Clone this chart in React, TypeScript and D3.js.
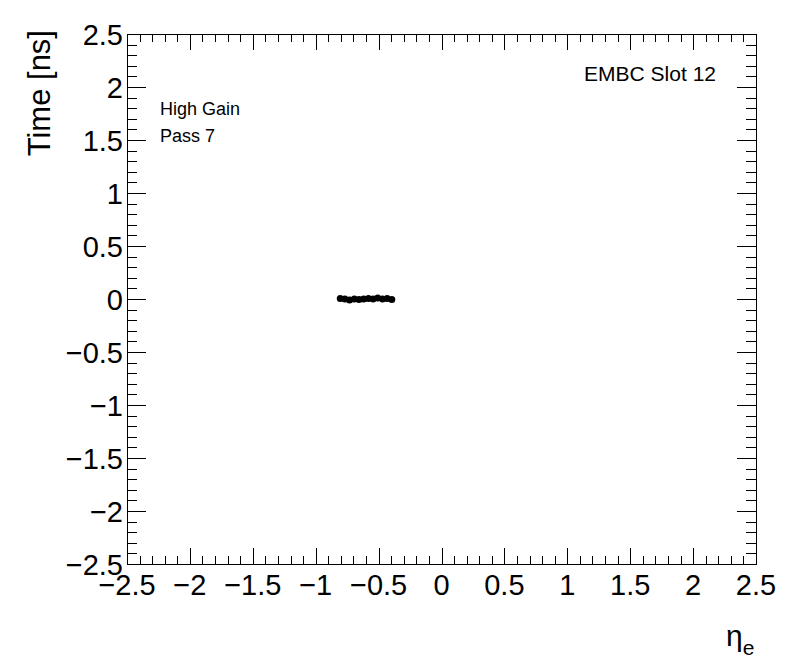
import React from "react";
import * as d3 from "d3";

const etaValues = [-0.805, -0.768, -0.731, -0.693, -0.656, -0.619, -0.581, -0.544, -0.507, -0.469, -0.432, -0.395];
const timeValues = [0.005, 0.0, -0.01, 0.0, -0.005, 0.0, 0.005, 0.0, 0.01, 0.0, 0.005, -0.005];
const xTicks = [-2.5, -2, -1.5, -1, -0.5, 0, 0.5, 1, 1.5, 2, 2.5];
const yTicks = [-2.5, -2, -1.5, -1, -0.5, 0, 0.5, 1, 1.5, 2, 2.5];

const W = 796, H = 672;
const L = 127, R = 756, T = 34, B = 564;
const font = "'Liberation Sans', Arial, Helvetica, sans-serif";

function fmt(v: number) {
  const s = String(Math.abs(v));
  return (v < 0 ? "\u2212" : "") + s;
}

export default function App() {
  const x = d3.scaleLinear().domain([-2.5, 2.5]).range([L, R]);
  const y = d3.scaleLinear().domain([-2.5, 2.5]).range([B, T]);
  const minor = d3.range(-2.5, 2.5001, 0.1).map((v) => Math.round(v * 10) / 10);
  const isMajor = (v: number) => Math.abs(v * 2 - Math.round(v * 2)) < 1e-6;

  return (
    <svg width={W} height={H} style={{ position: "absolute", left: 0, top: 0, background: "#fff" }}>
      <rect x={0} y={0} width={W} height={H} fill="#fff" />
      <g stroke="#000" strokeWidth={1} shapeRendering="crispEdges">
        <rect x={L} y={T} width={R - L} height={B - T} fill="none" />
        {minor.map((v) => {
          const px = Math.round(x(v)) + 0.5;
          const len = isMajor(v) ? 16 : 8;
          return (
            <g key={"x" + v}>
              <line x1={px} x2={px} y1={B} y2={B - len} />
              <line x1={px} x2={px} y1={T} y2={T + len} />
            </g>
          );
        })}
        {minor.map((v) => {
          const py = Math.round(y(v)) + 0.5;
          const len = isMajor(v) ? 19 : 10;
          return (
            <g key={"y" + v}>
              <line x1={L} x2={L + len} y1={py} y2={py} />
              <line x1={R} x2={R - len} y1={py} y2={py} />
            </g>
          );
        })}
      </g>
      <g fontFamily={font} fontSize={29} fill="#000">
        {xTicks.map((v) => (
          <text key={"xl" + v} x={x(v)} y={595} textAnchor="middle">{fmt(v)}</text>
        ))}
        {yTicks.map((v) => (
          <text key={"yl" + v} x={123} y={y(v) + 10.5} textAnchor="end">{fmt(v)}</text>
        ))}
        <text transform={`translate(50,${T - 4}) rotate(-90)`} textAnchor="end" fontSize={31}>Time [ns]</text>
        <text x={726} y={646} fontSize={30}>η<tspan fontSize={21} dy={9}>e</tspan></text>
      </g>
      <g fontFamily={font} fill="#000">
        <text x={716} y={81} fontSize={21} textAnchor="end">EMBC Slot 12</text>
        <text x={160} y={115} fontSize={18}>High Gain</text>
        <text x={160} y={142} fontSize={18}>Pass 7</text>
      </g>
      <g fill="#000">
        {etaValues.map((e, i) => (
          <circle key={i} cx={x(e)} cy={y(timeValues[i])} r={3.5} />
        ))}
      </g>
    </svg>
  );
}
